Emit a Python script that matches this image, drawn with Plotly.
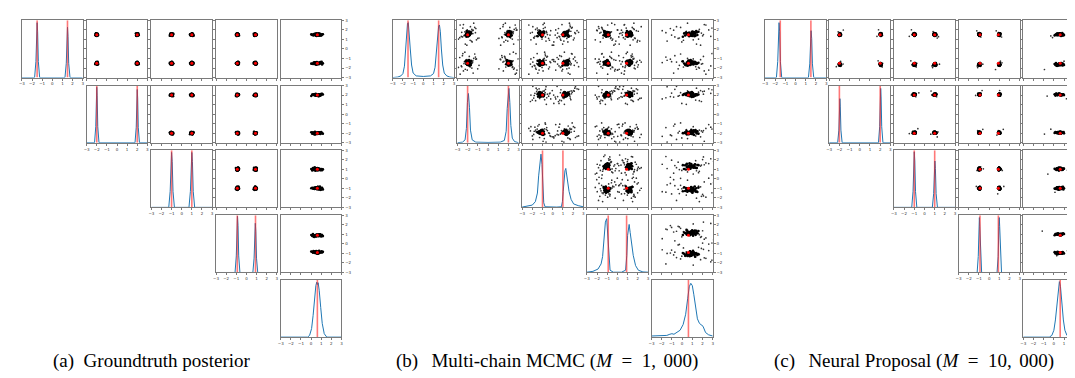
import plotly.graph_objects as go

W, H = 1075, 378

# ---------------- data ----------------
TICK_VALS = [-3, -2, -1, 0, 1, 2, 3]
TICK_TEXT = ["\u22123", "\u22122", "\u22121", "0", "1", "2", "3"]

# ground-truth parameter values (red lines / red dots)
truth = [1.5, 2.0, 1.0, 0.9, 0.62]

# (a) groundtruth posterior: marginal densities (relative height)
da_x1 = [-3, -1.75, -1.62, -1.55, -1.5, -1.45, -1.38, -1.25, 1.25, 1.38, 1.45, 1.5, 1.55, 1.62, 1.75, 3]
da_y1 = [0, 0, 0.28, 0.8, 0.96, 0.8, 0.28, 0, 0, 0.25, 0.72, 0.88, 0.72, 0.25, 0, 0]
da_x2 = [-3, -2.22, -2.1, -2.04, -2.0, -1.96, -1.9, -1.78, 1.78, 1.9, 1.96, 2.0, 2.04, 2.1, 2.22, 3]
da_y2 = [0, 0, 0.28, 0.82, 0.97, 0.82, 0.28, 0, 0, 0.27, 0.78, 0.93, 0.78, 0.27, 0, 0]
da_x3 = [-3, -1.28, -1.14, -1.06, -1.0, -0.94, -0.86, -0.72, 0.72, 0.86, 0.94, 1.0, 1.06, 1.14, 1.28, 3]
da_y3 = [0, 0, 0.28, 0.8, 0.96, 0.8, 0.28, 0, 0, 0.28, 0.8, 0.96, 0.8, 0.28, 0, 0]
da_x4 = [-3, -1.12, -1.0, -0.93, -0.88, -0.83, -0.76, -0.64, 0.64, 0.76, 0.83, 0.88, 0.93, 1.0, 1.12, 3]
da_y4 = [0, 0, 0.29, 0.82, 0.98, 0.82, 0.29, 0, 0, 0.25, 0.72, 0.86, 0.72, 0.25, 0, 0]
da_x5 = [-3, -0.35, -0.15, 0.05, 0.2, 0.35, 0.47, 0.56, 0.63, 0.7, 0.8, 0.95, 1.1, 1.3, 1.55, 3]
da_y5 = [0, 0, 0.03, 0.15, 0.38, 0.7, 0.9, 0.96, 0.92, 0.95, 0.82, 0.52, 0.24, 0.06, 0, 0]

# (b) multi-chain MCMC (M = 1,000)
db_x1 = [-3, -2.5, -2.2, -2.0, -1.85, -1.75, -1.65, -1.55, -1.47, -1.38, -1.28, -1.15, -1.0, -0.7, 0,
         0.7, 1.0, 1.15, 1.28, 1.4, 1.5, 1.58, 1.67, 1.77, 1.9, 2.05, 2.3, 2.6, 3]
db_y1 = [0, 0.01, 0.03, 0.07, 0.2, 0.45, 0.78, 0.95, 0.96, 0.8, 0.5, 0.22, 0.08, 0.03, 0.02,
         0.03, 0.07, 0.18, 0.42, 0.75, 0.9, 0.92, 0.8, 0.5, 0.22, 0.08, 0.03, 0.01, 0]
db_x2 = [-3, -2.5, -2.25, -2.12, -2.02, -1.92, -1.82, -1.72, -1.55, -1.2, 0, 1.2, 1.6, 1.78, 1.88,
         1.96, 2.05, 2.14, 2.24, 2.38, 2.6, 3]
db_y2 = [0, 0.01, 0.05, 0.25, 0.7, 0.86, 0.62, 0.22, 0.05, 0.01, 0.005, 0.01, 0.04, 0.2, 0.6,
         0.88, 0.95, 0.7, 0.3, 0.08, 0.02, 0]
db_x3 = [-3, -2.5, -2.0, -1.7, -1.5, -1.38, -1.25, -1.15, -1.05, -0.97, -0.88, -0.75, -0.4, 0.4,
         0.85, 0.95, 1.03, 1.12, 1.2, 1.28, 1.36, 1.45, 1.6, 1.8, 2.05, 2.5, 3]
db_y3 = [0.005, 0.02, 0.04, 0.1, 0.25, 0.55, 0.85, 0.93, 0.75, 0.4, 0.08, 0.01, 0.005, 0.005,
         0.01, 0.1, 0.28, 0.5, 0.64, 0.68, 0.58, 0.45, 0.28, 0.14, 0.06, 0.03, 0.01]
db_x4 = [-3, -2.4, -1.9, -1.6, -1.45, -1.3, -1.18, -1.05, -0.95, -0.85, -0.72, -0.4, 0.4, 0.8,
         0.92, 1.0, 1.08, 1.15, 1.25, 1.38, 1.55, 1.78, 2.05, 2.5, 3]
db_y4 = [0.005, 0.02, 0.06, 0.15, 0.28, 0.6, 0.88, 0.94, 0.65, 0.3, 0.04, 0.005, 0.005, 0.04,
         0.3, 0.65, 0.82, 0.84, 0.7, 0.5, 0.3, 0.12, 0.04, 0.01, 0.005]
db_x5 = [-3, -2.5, -2.0, -1.5, -1.2, -1.0, -0.8, -0.5, -0.2, 0.1, 0.35, 0.55, 0.7, 0.85, 1.0,
         1.15, 1.3, 1.5, 1.7, 1.9, 2.05, 2.3, 2.6, 3]
db_y5 = [0.02, 0.02, 0.03, 0.03, 0.05, 0.06, 0.05, 0.08, 0.12, 0.22, 0.4, 0.68, 0.88, 0.94, 0.9,
         0.74, 0.52, 0.32, 0.24, 0.21, 0.19, 0.08, 0.04, 0.02]

# (c) neural proposal (M = 10,000)
dc_x1 = [-3, -1.88, -1.75, -1.68, -1.62, -1.56, -1.49, -1.36, 1.26, 1.39, 1.46, 1.52, 1.58, 1.65, 1.78, 3]
dc_y1 = [0, 0, 0.28, 0.8, 0.96, 0.8, 0.28, 0, 0, 0.24, 0.68, 0.82, 0.68, 0.24, 0, 0]
dc_x2 = [-3, -2.17, -2.05, -1.99, -1.95, -1.91, -1.85, -1.73, 1.83, 1.95, 2.01, 2.05, 2.09, 2.15, 2.27, 3]
dc_y2 = [0, 0, 0.22, 0.64, 0.77, 0.64, 0.22, 0, 0, 0.28, 0.8, 0.95, 0.8, 0.28, 0, 0]
dc_x3 = [-3, -1.25, -1.12, -1.05, -1.0, -0.95, -0.88, -0.75, 0.77, 0.9, 0.97, 1.02, 1.07, 1.14, 1.27, 3]
dc_y3 = [0, 0, 0.28, 0.81, 0.97, 0.81, 0.28, 0, 0, 0.24, 0.68, 0.81, 0.68, 0.24, 0, 0]
dc_x4 = [-3, -1.18, -1.07, -1.0, -0.96, -0.92, -0.85, -0.74, 0.77, 0.88, 0.95, 0.99, 1.03, 1.1, 1.21, 3]
dc_y4 = [0, 0, 0.28, 0.8, 0.96, 0.8, 0.28, 0, 0, 0.28, 0.8, 0.96, 0.8, 0.28, 0, 0]
dc_x5 = [-3, -0.45, -0.2, 0, 0.15, 0.3, 0.43, 0.54, 0.65, 0.78, 0.93, 1.08, 1.28, 1.53, 3]
dc_y5 = [0, 0, 0.03, 0.12, 0.3, 0.6, 0.88, 0.97, 0.88, 0.6, 0.3, 0.12, 0.03, 0, 0]

# sample-cloud mode locations per parameter
modes_a = [[-1.5, 1.5], [-2.0, 2.0], [-1.0, 1.0], [-0.88, 0.88], [0.6]]
modes_b = [[-1.47, 1.57], [-1.92, 2.05], [-1.15, 1.28], [-1.05, 1.15], [0.85]]
modes_c = [[-1.62, 1.52], [-1.95, 2.05], [-1.0, 1.02], [-0.96, 0.99], [0.54]]
# cloud spreads per parameter
spread_a = [0.08, 0.07, 0.09, 0.08, 0.3]
spread_b = [0.16, 0.14, 0.17, 0.16, 0.4]
spread_c = [0.08, 0.06, 0.08, 0.06, 0.24]
tail_count = [0, 32, 3]

# hand-typed cloud shape (core offsets and heavy-tail offsets)
cloud_u = [0.12, -0.85, 1.34, -0.27, 0.56, -1.62, 0.91, -0.04, -0.48, 1.05, 0.33, -1.21, 0.67, -0.73,
           1.88, -0.15, 0.41, -0.96, 0.22, -0.39, 1.47, -1.05, 0.08, 0.79, -0.61, -1.94, 0.55, 0.18,
           -0.31, 1.16, -0.82, 0.43, -0.09, 0.97, -1.38, 0.26, -0.57, 1.61, -0.21, 0.64]
cloud_v = [-0.44, 0.73, 0.19, -1.28, 0.95, 0.36, -0.67, 1.52, -0.11, -0.88, 0.58, -0.25, -1.49, 1.07,
           0.04, -0.79, 1.31, 0.47, -1.83, 0.29, -0.52, 0.86, -1.09, -0.18, 1.69, -0.35, 0.62, -0.94,
           1.22, 0.11, -0.63, -1.17, 0.84, -0.29, 0.51, 1.96, -0.76, -0.07, 0.39, -1.41]
tail_u = [3.1, -4.2, 2.4, -2.8, 5.6, -3.5, 1.9, -6.1, 4.4, -2.2, 2.9, -5.0, 3.7, -1.8, 6.5, -3.9,
          2.1, -4.7, 0.6, 3.3, -1.1, 7.4, -2.5, 1.4, -7.0, 4.9, -0.8, 2.6, -3.1, 5.2, -5.8, 1.2]
tail_v = [-2.6, 1.4, 4.8, -3.3, 0.9, 2.7, -5.2, -1.2, 3.6, 5.9, -4.1, 0.3, -1.9, 3.0, -0.7, -3.8,
          6.2, 1.8, -2.4, 4.3, -6.6, 2.2, -1.5, 7.1, 0.6, -2.9, 3.9, -4.6, 1.1, -0.4, 2.5, -7.3]

captions = ["(a)\u2002Groundtruth posterior",
            "(b)\u2002\u2009Multi-chain MCMC (<i>M</i>\u2002=\u20021,\u2009\u2009000)",
            "(c)\u2002\u2009Neural Proposal (<i>M</i>\u2002=\u200210,\u2009\u2009000)"]
caption_x = [141, 539, 907]

# ---------------- layout geometry (pixels) ----------------
col_left = [[11, 76, 141, 206, 271],
            [383.5, 448.5, 513.5, 578.5, 643.5],
            [757.5, 822, 887, 952, 1017]]
cell_w = [61, 61.5, 61.5]
row_top = [9.5, 75.5, 141, 207, 272.5]
cell_h = 58

densities = [
    [(da_x1, da_y1), (da_x2, da_y2), (da_x3, da_y3), (da_x4, da_y4), (da_x5, da_y5)],
    [(db_x1, db_y1), (db_x2, db_y2), (db_x3, db_y3), (db_x4, db_y4), (db_x5, db_y5)],
    [(dc_x1, dc_y1), (dc_x2, dc_y2), (dc_x3, dc_y3), (dc_x4, dc_y4), (dc_x5, dc_y5)],
]
modes = [modes_a, modes_b, modes_c]
spreads = [spread_a, spread_b, spread_c]

FRAME = "#7a7a7a"
BLUE = "#1f77b4"
RED_LINE = "rgba(255,30,30,0.6)"
TICK_FONT = dict(size=4, color="#333", family="DejaVu Sans")


def cloud(cx, cy, sdx, sdy, ntail, shift):
    xs, ys, txs, tys = [], [], [], []
    n = len(cloud_u)
    for k in range(n):
        xs.append(cx + sdx * cloud_u[(k + shift) % n])
        ys.append(cy + sdy * cloud_v[(k + 2 * shift + 3) % n])
    m = len(tail_u)
    for k in range(ntail):
        txs.append(cx + sdx * tail_u[(k + shift) % m])
        tys.append(cy + sdy * tail_v[(k + 3 * shift + 1) % m])
    return xs, ys, txs, tys


fig = go.Figure()
layout = dict(width=W, height=H, margin=dict(l=0, r=0, t=0, b=0),
              paper_bgcolor="white", plot_bgcolor="white", showlegend=False)

n = 0
for c in range(3):
    for i in range(5):
        for j in range(i, 5):
            n += 1
            sfx = "" if n == 1 else str(n)
            xname, yname = "x" + sfx, "y" + sfx
            left = col_left[c][j]
            right = left + cell_w[c]
            xmax = 3.0
            clipped = right > W
            if clipped:
                xmax = -3 + 6 * (W - left) / cell_w[c]
                right = W
            top = row_top[i]
            xdom = [left / W, right / W]
            ydom = [1 - (top + cell_h) / H, 1 - top / H]

            xaxis = dict(domain=xdom, range=[-3, xmax], anchor=yname, showgrid=False, zeroline=False,
                         showline=True, linecolor=FRAME, linewidth=1, mirror=True,
                         tickvals=TICK_VALS, ticktext=TICK_TEXT, ticks="outside", ticklen=2,
                         tickwidth=0.6, tickcolor=FRAME, showticklabels=False, tickfont=TICK_FONT)
            yaxis = dict(domain=ydom, anchor=xname, showgrid=False, zeroline=False,
                         showline=True, linecolor=FRAME, linewidth=1, mirror=not clipped,
                         tickfont=TICK_FONT)

            if i == j:
                xaxis["showticklabels"] = True
                yaxis.update(range=[0, 1.0], showticklabels=False, ticks="")
                dx, dy = densities[c][i]
                fig.add_trace(go.Scatter(x=dx, y=dy, mode="lines", xaxis=xname, yaxis=yname,
                                         line=dict(color=BLUE, width=1), hoverinfo="skip"))
                if i < 4:
                    lx = [-truth[i], -truth[i], None, truth[i], truth[i]]
                    ly = [0, 1, None, 0, 1]
                else:
                    lx = [truth[i], truth[i]]
                    ly = [0, 1]
                fig.add_trace(go.Scatter(x=lx, y=ly, mode="lines", xaxis=xname, yaxis=yname,
                                         line=dict(color=RED_LINE, width=1.6), hoverinfo="skip"))
            else:
                yaxis.update(range=[-3, 3], tickvals=TICK_VALS, ticktext=TICK_TEXT, ticks="outside",
                             ticklen=2, tickwidth=0.6, tickcolor=FRAME, showticklabels=False)
                if j == 4 and not clipped:
                    yaxis.update(side="right", showticklabels=True)
                xs, ys, txs, tys = [], [], [], []
                rx, ry = [], []
                for kx, mx in enumerate(modes[c][j]):
                    for ky, my in enumerate(modes[c][i]):
                        shift = (i * 7 + j * 3 + kx * 11 + ky * 5 + c * 13) % len(cloud_u)
                        px, py, qx, qy = cloud(mx, my, spreads[c][j], spreads[c][i], tail_count[c], shift)
                        xs += px
                        ys += py
                        txs += qx
                        tys += qy
                tx = [-truth[j], truth[j]] if j < 4 else [truth[j]]
                ty = [-truth[i], truth[i]]
                for a in tx:
                    for b in ty:
                        rx.append(a)
                        ry.append(b)
                if txs:
                    fig.add_trace(go.Scatter(x=txs, y=tys, mode="markers", xaxis=xname, yaxis=yname,
                                             marker=dict(color="#333", size=1.7, line=dict(width=0)),
                                             hoverinfo="skip"))
                fig.add_trace(go.Scatter(x=xs, y=ys, mode="markers", xaxis=xname, yaxis=yname,
                                         marker=dict(color="black", size=2.6, line=dict(width=0)),
                                         hoverinfo="skip"))
                fig.add_trace(go.Scatter(x=rx, y=ry, mode="markers", xaxis=xname, yaxis=yname,
                                         marker=dict(color="red", size=3, line=dict(width=0)),
                                         hoverinfo="skip"))
            layout["xaxis" + sfx] = xaxis
            layout["yaxis" + sfx] = yaxis

annotations = []
for k in range(3):
    annotations.append(dict(text=captions[k], x=caption_x[k] / W, y=1 - 355 / H, xref="paper",
                            yref="paper", xanchor="center", yanchor="middle", showarrow=False,
                            font=dict(family="Liberation Serif", size=19, color="black")))
layout["annotations"] = annotations
fig.update_layout(**layout)
fig.write_html("out.html")
